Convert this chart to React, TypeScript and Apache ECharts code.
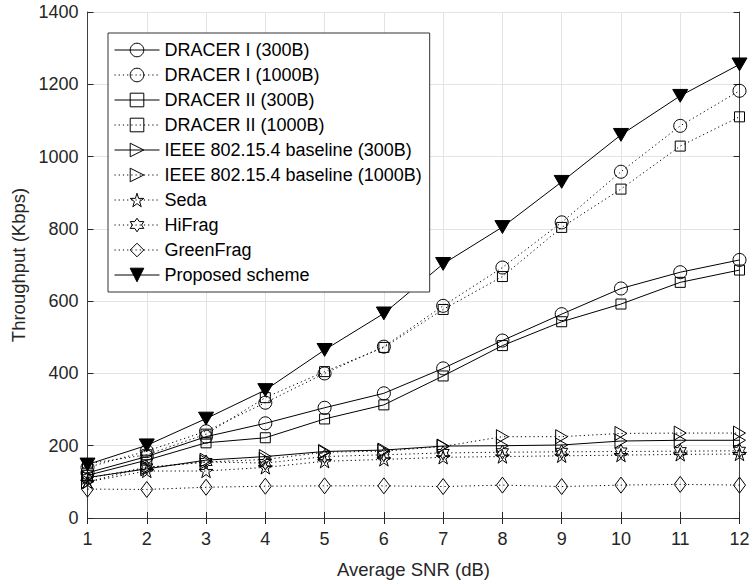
import React, { useEffect, useRef } from "react";
import * as echarts from "echarts";

const snr = [1, 2, 3, 4, 5, 6, 7, 8, 9, 10, 11, 12];

const dracer1_300 = [125, 170, 225, 262, 305, 345, 414, 491, 564, 635, 680, 714];
const dracer1_1000 = [140, 185, 240, 319, 400, 474, 587, 693, 818, 958, 1085, 1182];
const dracer2_300 = [118, 160, 208, 222, 274, 313, 393, 477, 543, 592, 652, 686];
const dracer2_1000 = [150, 175, 232, 333, 405, 472, 577, 668, 804, 910, 1029, 1110];
const ieee_300 = [112, 136, 160, 170, 184, 188, 199, 200, 202, 213, 215, 215];
const ieee_1000 = [100, 140, 155, 162, 182, 185, 198, 225, 225, 234, 235, 235];
const seda = [100, 130, 130, 140, 157, 162, 168, 170, 172, 174, 176, 177];
const hifrag = [110, 140, 155, 152, 170, 175, 180, 182, 183, 184, 185, 186];
const greenfrag = [80, 79, 85, 88, 89, 89, 87, 91, 87, 91, 93, 91];
const proposed = [148, 201, 275, 354, 465, 566, 703, 805, 930, 1060, 1168, 1255];

const names = [
  "DRACER I (300B)",
  "DRACER I (1000B)",
  "DRACER II (300B)",
  "DRACER II (1000B)",
  "IEEE 802.15.4 baseline (300B)",
  "IEEE 802.15.4 baseline (1000B)",
  "Seda",
  "HiFrag",
  "GreenFrag",
  "Proposed scheme",
];

const TRI_RIGHT = "path://M0,0 L12,7 L0,14 Z";
const TRI_DOWN = "path://M0,0 L14,0 L7,12 Z";
const STAR5 =
  "path://M10,0 L12.245,6.91 L19.51,6.91 L13.633,11.18 L15.878,18.09 L10,13.82 L4.122,18.09 L6.367,11.18 L0.49,6.91 L7.755,6.91 Z";
const STAR6 =
  "path://M10,0 L12.887,5 L18.66,5 L15.77,10 L18.66,15 L12.887,15 L10,20 L7.113,15 L1.34,15 L4.23,10 L1.34,5 L7.113,5 Z";
const DIAMOND = "path://M6,0 L12,8 L6,16 L0,8 Z";

const FONT = "'Liberation Sans', Arial, sans-serif";

function mk(
  name: string,
  data: number[],
  dotted: boolean,
  symbol: string,
  size: number,
  filled = false
) {
  return {
    name,
    type: "line",
    data: snr.map((x, i) => [x, data[i]]),
    symbol,
    symbolSize: size,
    symbolKeepAspect: true,
    showAllSymbol: true,
    lineStyle: { color: "#000", width: 1, type: dotted ? [1.2, 3] : "solid" },
    itemStyle: {
      color: filled ? "#000" : "rgba(255,255,255,0)",
      borderColor: "#000",
      borderWidth: 1,
    },
    emphasis: { disabled: true },
    z: 3,
  };
}

export default function App() {
  const ref = useRef<HTMLDivElement>(null);
  useEffect(() => {
    if (!ref.current) return;
    const chart = echarts.init(ref.current, undefined, { renderer: "svg" });
    const axisLine = { show: true, lineStyle: { color: "#404040", width: 1 } };
    const tick = { show: true, inside: true, length: 6, lineStyle: { color: "#262626" } };
    chart.setOption({
      animation: false,
      backgroundColor: "#fff",
      textStyle: { fontFamily: FONT },
      grid: { left: 87.5, right: 13.5, top: 12, bottom: 66 },
      legend: {
        orient: "vertical",
        left: 108,
        top: 33,
        padding: [8, 8, 8, 6],
        itemWidth: 45,
        itemHeight: 17,
        itemGap: 7,
        backgroundColor: "#fff",
        borderColor: "#333",
        borderWidth: 1,
        borderRadius: 0,
        lineStyle: { width: 1 },
        itemStyle: { borderWidth: 1 },
        textStyle: { fontSize: 18, color: "#000", fontFamily: FONT },
        data: names,
      },
      xAxis: [
        {
          type: "value",
          min: 1,
          max: 12,
          interval: 1,
          name: "Average SNR (dB)",
          nameLocation: "middle",
          nameGap: 42,
          nameTextStyle: { fontSize: 18.5, color: "#262626", fontFamily: FONT },
          axisLine,
          axisTick: tick,
          axisLabel: { fontSize: 18, color: "#262626", margin: 12, fontFamily: FONT },
          splitLine: { show: true, lineStyle: { color: "#e3e3e3", width: 1 } },
        },
        {
          type: "value",
          min: 1,
          max: 12,
          interval: 1,
          position: "top",
          axisLine,
          axisTick: tick,
          axisLabel: { show: false },
          splitLine: { show: false },
        },
      ],
      yAxis: [
        {
          type: "value",
          min: 0,
          max: 1400,
          interval: 200,
          name: "Throughput (Kbps)",
          nameLocation: "middle",
          nameGap: 60,
          nameTextStyle: { fontSize: 18.5, color: "#262626", fontFamily: FONT },
          axisLine,
          axisTick: tick,
          axisLabel: {
            fontSize: 18,
            color: "#262626",
            margin: 9,
            fontFamily: FONT,
            formatter: (v: number) => String(v),
          },
          splitLine: { show: true, lineStyle: { color: "#e3e3e3", width: 1 } },
        },
        {
          type: "value",
          min: 0,
          max: 1400,
          interval: 200,
          position: "right",
          axisLine,
          axisTick: tick,
          axisLabel: { show: false },
          splitLine: { show: false },
        },
      ],
      series: [
        mk(names[0], dracer1_300, false, "circle", 13),
        mk(names[1], dracer1_1000, true, "circle", 13),
        mk(names[2], dracer2_300, false, "rect", 10),
        mk(names[3], dracer2_1000, true, "rect", 10),
        mk(names[4], ieee_300, false, TRI_RIGHT, 14),
        mk(names[5], ieee_1000, true, TRI_RIGHT, 14),
        mk(names[6], seda, true, STAR5, 14),
        mk(names[7], hifrag, true, STAR6, 14),
        mk(names[8], greenfrag, true, DIAMOND, 16),
        mk(names[9], proposed, false, TRI_DOWN, 15, true),
      ],
    });
    return () => chart.dispose();
  }, []);
  return (
    <div
      ref={ref}
      style={{ position: "fixed", left: 0, top: 0, width: 753, height: 584 }}
    />
  );
}
